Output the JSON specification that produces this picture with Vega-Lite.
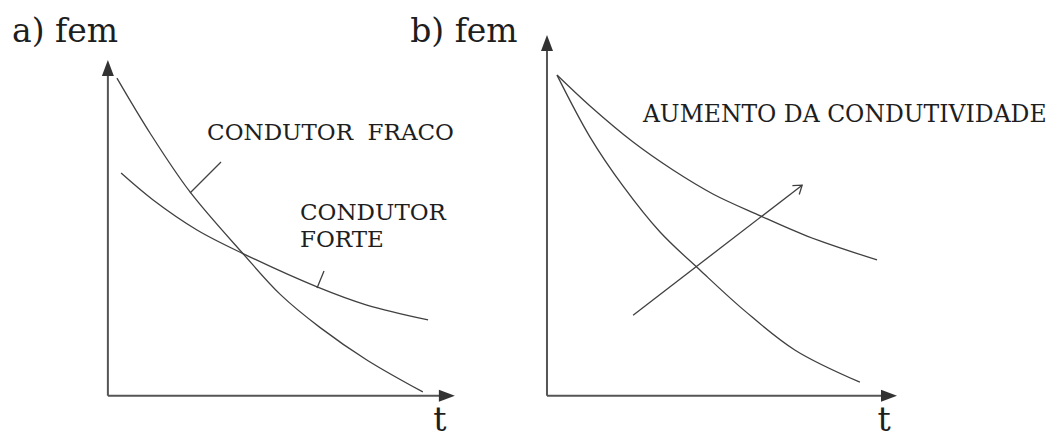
{
  "$schema": "https://vega.github.io/schema/vega-lite/v6.json",
  "padding": 0,
  "background": "white",
  "spacing": 0,
  "bounds": "flush",
  "config": {"view": {"stroke": null}, "concat": {"spacing": 0}, "text": {"font": "DejaVu Serif", "color": "#1e1e1e"}},
  "datasets": {
    "axesA": [{"t": 0, "fem": 0, "t2": 0, "fem2": 9.8}, {"t": 0, "fem": 0, "t2": 9.8, "fem2": 0}],
    "headsA": [{"t": 0, "fem": 9.97, "dir": "up"}, {"t": 9.97, "fem": 0, "dir": "right"}],
    "curvesA": [
      {"curve": "fraco", "t": 0.26, "fem": 9.43},
      {"curve": "fraco", "t": 1.21, "fem": 7.80},
      {"curve": "fraco", "t": 2.36, "fem": 6.05},
      {"curve": "fraco", "t": 3.88, "fem": 4.22},
      {"curve": "fraco", "t": 4.96, "fem": 3.00},
      {"curve": "fraco", "t": 6.10, "fem": 2.02},
      {"curve": "fraco", "t": 7.44, "fem": 1.06},
      {"curve": "fraco", "t": 9.05, "fem": 0.11},
      {"curve": "forte", "t": 0.38, "fem": 6.61},
      {"curve": "forte", "t": 1.30, "fem": 5.81},
      {"curve": "forte", "t": 2.56, "fem": 4.92},
      {"curve": "forte", "t": 3.88, "fem": 4.22},
      {"curve": "forte", "t": 6.01, "fem": 3.23},
      {"curve": "forte", "t": 7.44, "fem": 2.69},
      {"curve": "forte", "t": 9.20, "fem": 2.25}
    ],
    "leadersA": [{"t": 3.25, "fem": 6.94, "t2": 2.36, "fem2": 6.02}, {"t": 6.21, "fem": 3.70, "t2": 6.01, "fem2": 3.20}],
    "titlesA": [{"t": -2.756, "fem": 10.5, "label": "a) fem"}],
    "tA": [{"t": 9.54, "fem": -1.05, "label": "t"}],
    "labelsA": [
      {"t": 2.85, "fem": 7.59, "label": "CONDUTOR\u00a0 FRACO"},
      {"t": 5.52, "fem": 5.21, "label": "CONDUTOR"},
      {"t": 5.52, "fem": 4.41, "label": "FORTE"}
    ],
    "axesB": [{"t": 0, "fem": 0, "t2": 0, "fem2": 10.5}, {"t": 0, "fem": 0, "t2": 9.8, "fem2": 0}],
    "headsB": [{"t": 0, "fem": 10.71, "dir": "up"}, {"t": 10.0, "fem": 0, "dir": "right"}],
    "curvesB": [
      {"curve": "lenta", "t": 0.286, "fem": 9.52},
      {"curve": "lenta", "t": 1.23, "fem": 8.60},
      {"curve": "lenta", "t": 2.46, "fem": 7.53},
      {"curve": "lenta", "t": 3.60, "fem": 6.70},
      {"curve": "lenta", "t": 4.74, "fem": 5.99},
      {"curve": "lenta", "t": 6.03, "fem": 5.37},
      {"curve": "lenta", "t": 7.43, "fem": 4.74},
      {"curve": "lenta", "t": 9.43, "fem": 4.03},
      {"curve": "rapida", "t": 0.286, "fem": 9.52},
      {"curve": "rapida", "t": 1.23, "fem": 7.68},
      {"curve": "rapida", "t": 2.17, "fem": 6.23},
      {"curve": "rapida", "t": 3.23, "fem": 4.86},
      {"curve": "rapida", "t": 4.37, "fem": 3.73},
      {"curve": "rapida", "t": 5.66, "fem": 2.51},
      {"curve": "rapida", "t": 7.09, "fem": 1.35},
      {"curve": "rapida", "t": 8.94, "fem": 0.40}
    ],
    "arrowB": [{"t": 2.46, "fem": 2.39, "t2": 7.29, "fem2": 6.25}],
    "arrowTipB": [{"t": 7.29, "fem": 6.25}],
    "titlesB": [{"t": -3.91, "fem": 10.5, "label": "b) fem"}],
    "tB": [{"t": 9.63, "fem": -1.05, "label": "t"}],
    "labelsB": [{"t": 2.74, "fem": 8.12, "label": "AUMENTO DA CONDUTIVIDADE"}]
  },
  "hconcat": [
    {
      "width": 529,
      "height": 431,
      "encoding": {
        "x": {"field": "t", "type": "quantitative", "scale": {"domain": [-3.1, 12.1], "nice": false, "zero": false}, "axis": null},
        "y": {"field": "fem", "type": "quantitative", "scale": {"domain": [-1.05, 11.75], "nice": false, "zero": false}, "axis": null}
      },
      "layer": [
        {"data": {"name": "axesA"}, "mark": {"type": "rule", "color": "#555555", "strokeWidth": 2},
         "encoding": {"x2": {"field": "t2"}, "y2": {"field": "fem2"}}},
        {"data": {"name": "headsA"}, "mark": {"type": "point", "filled": true, "opacity": 1, "size": 64, "color": "#333333"},
         "encoding": {"shape": {"field": "dir", "type": "nominal", "legend": null,
           "scale": {"domain": ["up", "right"], "range": ["M-1.5,4L0,0L1.5,4Z", "M-4,-1.5L0,0L-4,1.5Z"]}}}},
        {"data": {"name": "curvesA"}, "mark": {"type": "line", "color": "#404040", "strokeWidth": 1.3, "interpolate": "catmull-rom"},
         "encoding": {"detail": {"field": "curve"}}},
        {"data": {"name": "leadersA"}, "mark": {"type": "rule", "color": "#404040", "strokeWidth": 1.3},
         "encoding": {"x2": {"field": "t2"}, "y2": {"field": "fem2"}}},
        {"data": {"name": "titlesA"}, "mark": {"type": "text", "fontSize": 33, "align": "left", "baseline": "alphabetic"},
         "encoding": {"text": {"field": "label"}}},
        {"data": {"name": "tA"}, "mark": {"type": "text", "fontSize": 33, "align": "center", "baseline": "alphabetic"},
         "encoding": {"text": {"field": "label"}}},
        {"data": {"name": "labelsA"}, "mark": {"type": "text", "fontSize": 23, "align": "left", "baseline": "alphabetic"},
         "encoding": {"text": {"field": "label"}}}
      ]
    },
    {
      "width": 529,
      "height": 431,
      "encoding": {
        "x": {"field": "t", "type": "quantitative", "scale": {"domain": [-0.514, 14.6], "nice": false, "zero": false}, "axis": null},
        "y": {"field": "fem", "type": "quantitative", "scale": {"domain": [-1.05, 11.75], "nice": false, "zero": false}, "axis": null}
      },
      "layer": [
        {"data": {"name": "axesB"}, "mark": {"type": "rule", "color": "#555555", "strokeWidth": 2},
         "encoding": {"x2": {"field": "t2"}, "y2": {"field": "fem2"}}},
        {"data": {"name": "headsB"}, "mark": {"type": "point", "filled": true, "opacity": 1, "size": 64, "color": "#333333"},
         "encoding": {"shape": {"field": "dir", "type": "nominal", "legend": null,
           "scale": {"domain": ["up", "right"], "range": ["M-1.5,4L0,0L1.5,4Z", "M-4,-1.5L0,0L-4,1.5Z"]}}}},
        {"data": {"name": "curvesB"}, "mark": {"type": "line", "color": "#404040", "strokeWidth": 1.3, "interpolate": "catmull-rom"},
         "encoding": {"detail": {"field": "curve"}}},
        {"data": {"name": "arrowB"}, "mark": {"type": "rule", "color": "#404040", "strokeWidth": 1.3},
         "encoding": {"x2": {"field": "t2"}, "y2": {"field": "fem2"}}},
        {"data": {"name": "arrowTipB"}, "mark": {"type": "point", "filled": false, "opacity": 1, "size": 256, "color": "#404040", "strokeWidth": 1.3, "angle": -37.6, "shape": "M-1,-0.7L0,0L-1,0.7"},
         "encoding": {}},
        {"data": {"name": "titlesB"}, "mark": {"type": "text", "fontSize": 33, "align": "left", "baseline": "alphabetic"},
         "encoding": {"text": {"field": "label"}}},
        {"data": {"name": "tB"}, "mark": {"type": "text", "fontSize": 33, "align": "center", "baseline": "alphabetic"},
         "encoding": {"text": {"field": "label"}}},
        {"data": {"name": "labelsB"}, "mark": {"type": "text", "fontSize": 23.5, "align": "left", "baseline": "alphabetic"},
         "encoding": {"text": {"field": "label"}}}
      ]
    }
  ]
}
